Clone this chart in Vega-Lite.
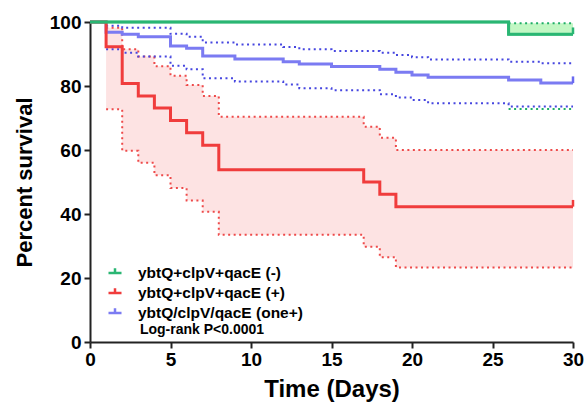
{
  "$schema": "https://vega.github.io/schema/vega-lite/v6.json",
  "width": 483,
  "height": 320,
  "autosize": {"type": "none"},
  "padding": {"left": 90, "top": 22, "right": 12, "bottom": 69},
  "background": "white",
  "config": {
    "view": {"stroke": null},
    "font": "Liberation Sans",
    "axis": {
      "grid": false,
      "domainColor": "#222222",
      "domainWidth": 2,
      "tickColor": "#222222",
      "tickWidth": 2,
      "tickSize": 6,
      "labelFont": "Liberation Sans",
      "labelFontSize": 19,
      "labelFontWeight": "bold",
      "labelColor": "#000000",
      "titleFont": "Liberation Sans",
      "titleFontWeight": "bold",
      "titleColor": "#000000"
    },
    "axisX": {"tickCount": 6, "labelPadding": 2, "titlePadding": 8, "titleFontSize": 24, "labelFlush": false},
    "axisY": {"tickCount": 5, "labelPadding": 3, "titlePadding": 13, "titleFontSize": 22}
  },
  "data": {
    "values": [
      {"group": "ybtQ/clpV/qacE (one+)", "day": 0, "surv": 100, "lo": null, "hi": null},
      {"group": "ybtQ/clpV/qacE (one+)", "day": 1, "surv": 96.8, "lo": 91.5, "hi": 98.8},
      {"group": "ybtQ/clpV/qacE (one+)", "day": 2, "surv": 96.2, "lo": 90.4, "hi": 98.2},
      {"group": "ybtQ/clpV/qacE (one+)", "day": 3, "surv": 95.4, "lo": 89.2, "hi": 98.2},
      {"group": "ybtQ/clpV/qacE (one+)", "day": 5, "surv": 92.5, "lo": 86.3, "hi": 96.3},
      {"group": "ybtQ/clpV/qacE (one+)", "day": 6, "surv": 91.8, "lo": 85.2, "hi": 95.4},
      {"group": "ybtQ/clpV/qacE (one+)", "day": 7, "surv": 89.4, "lo": 82.4, "hi": 93.6},
      {"group": "ybtQ/clpV/qacE (one+)", "day": 9, "surv": 88.4, "lo": 81.4, "hi": 93.0},
      {"group": "ybtQ/clpV/qacE (one+)", "day": 12, "surv": 87.6, "lo": 80.5, "hi": 92.2},
      {"group": "ybtQ/clpV/qacE (one+)", "day": 13, "surv": 86.9, "lo": 79.3, "hi": 91.5},
      {"group": "ybtQ/clpV/qacE (one+)", "day": 15, "surv": 86.1, "lo": 78.7, "hi": 90.9},
      {"group": "ybtQ/clpV/qacE (one+)", "day": 18, "surv": 85.2, "lo": 77.4, "hi": 90.4},
      {"group": "ybtQ/clpV/qacE (one+)", "day": 19, "surv": 84.3, "lo": 76.4, "hi": 89.7},
      {"group": "ybtQ/clpV/qacE (one+)", "day": 20, "surv": 83.4, "lo": 75.6, "hi": 89.0},
      {"group": "ybtQ/clpV/qacE (one+)", "day": 21, "surv": 82.7, "lo": 74.6, "hi": 88.3},
      {"group": "ybtQ/clpV/qacE (one+)", "day": 26, "surv": 81.9, "lo": 73.6, "hi": 87.6},
      {"group": "ybtQ/clpV/qacE (one+)", "day": 28, "surv": 80.9, "lo": 73.6, "hi": 87.1},
      {"group": "ybtQ/clpV/qacE (one+)", "day": 30, "surv": 80.9, "lo": 73.6, "hi": 87.1},
      {"group": "ybtQ+clpV+qacE (+)", "day": 0, "surv": 100, "lo": null, "hi": null},
      {"group": "ybtQ+clpV+qacE (+)", "day": 1, "surv": 92.3, "lo": 72.7, "hi": 98.2},
      {"group": "ybtQ+clpV+qacE (+)", "day": 2, "surv": 80.8, "lo": 59.8, "hi": 91.5},
      {"group": "ybtQ+clpV+qacE (+)", "day": 3, "surv": 76.9, "lo": 56.0, "hi": 89.2},
      {"group": "ybtQ+clpV+qacE (+)", "day": 4, "surv": 73.1, "lo": 52.1, "hi": 86.2},
      {"group": "ybtQ+clpV+qacE (+)", "day": 5, "surv": 69.2, "lo": 48.1, "hi": 83.2},
      {"group": "ybtQ+clpV+qacE (+)", "day": 6, "surv": 65.4, "lo": 44.2, "hi": 80.3},
      {"group": "ybtQ+clpV+qacE (+)", "day": 7, "surv": 61.5, "lo": 40.7, "hi": 76.9},
      {"group": "ybtQ+clpV+qacE (+)", "day": 8, "surv": 53.8, "lo": 33.5, "hi": 70.4},
      {"group": "ybtQ+clpV+qacE (+)", "day": 17, "surv": 50.0, "lo": 29.8, "hi": 67.3},
      {"group": "ybtQ+clpV+qacE (+)", "day": 18, "surv": 46.2, "lo": 26.5, "hi": 63.8},
      {"group": "ybtQ+clpV+qacE (+)", "day": 19, "surv": 42.3, "lo": 23.3, "hi": 60.0},
      {"group": "ybtQ+clpV+qacE (+)", "day": 30, "surv": 42.3, "lo": 23.3, "hi": 60.0},
      {"group": "ybtQ+clpV+qacE (-)", "day": 0, "surv": 100, "lo": null, "hi": null},
      {"group": "ybtQ+clpV+qacE (-)", "day": 26, "surv": 96.2, "lo": 72.8, "hi": 99.6},
      {"group": "ybtQ+clpV+qacE (-)", "day": 30, "surv": 96.2, "lo": 72.8, "hi": 99.6}
    ]
  },
  "layer": [
    {
      "transform": [{"filter": "datum.group === 'ybtQ+clpV+qacE (+)' && isValid(datum.lo)"}],
      "mark": {"type": "area", "interpolate": "step-after", "color": "#fde3e3"},
      "encoding": {
        "x": {"field": "day", "type": "quantitative", "title": "Time (Days)", "scale": {"domain": [0, 30], "nice": false}},
        "y": {"field": "lo", "type": "quantitative", "title": "Percent survival", "scale": {"domain": [0, 100], "nice": false}},
        "y2": {"field": "hi"}
      }
    },
    {
      "transform": [{"filter": "datum.group === 'ybtQ+clpV+qacE (-)' && isValid(datum.hi)"}],
      "mark": {"type": "area", "interpolate": "step-after", "color": "#c2f7c4"},
      "encoding": {
        "x": {"field": "day", "type": "quantitative", "title": "Time (Days)"},
        "y": {"field": "surv", "type": "quantitative", "title": "Percent survival"},
        "y2": {"field": "hi"}
      }
    },
    {
      "transform": [
        {"filter": "datum.group === 'ybtQ+clpV+qacE (+)'"},
        {"fold": ["lo", "hi"], "as": ["bound", "val"]},
        {"filter": "isValid(datum.val)"}
      ],
      "mark": {"type": "line", "interpolate": "step-after", "strokeDash": [2, 3.5], "strokeWidth": 2, "color": "#ee4a4a"},
      "encoding": {
        "x": {"field": "day", "type": "quantitative", "title": "Time (Days)"},
        "y": {"field": "val", "type": "quantitative", "title": "Percent survival"},
        "detail": {"field": "bound"}
      }
    },
    {
      "transform": [
        {"filter": "datum.group === 'ybtQ/clpV/qacE (one+)'"},
        {"fold": ["lo", "hi"], "as": ["bound", "val"]},
        {"filter": "isValid(datum.val)"}
      ],
      "mark": {"type": "line", "interpolate": "step-after", "strokeDash": [2, 3.5], "strokeWidth": 2, "color": "#4646e0"},
      "encoding": {
        "x": {"field": "day", "type": "quantitative", "title": "Time (Days)"},
        "y": {"field": "val", "type": "quantitative", "title": "Percent survival"},
        "detail": {"field": "bound"}
      }
    },
    {
      "transform": [
        {"filter": "datum.group === 'ybtQ+clpV+qacE (-)'"},
        {"fold": ["lo", "hi"], "as": ["bound", "val"]},
        {"filter": "isValid(datum.val)"}
      ],
      "mark": {"type": "line", "interpolate": "step-after", "strokeDash": [2, 3.5], "strokeWidth": 2, "color": "#1fae66"},
      "encoding": {
        "x": {"field": "day", "type": "quantitative", "title": "Time (Days)"},
        "y": {"field": "val", "type": "quantitative", "title": "Percent survival"},
        "detail": {"field": "bound"}
      }
    },
    {
      "mark": {"type": "line", "interpolate": "step-after", "strokeWidth": 3},
      "encoding": {
        "x": {"field": "day", "type": "quantitative", "title": "Time (Days)"},
        "y": {"field": "surv", "type": "quantitative", "title": "Percent survival"},
        "color": {
          "field": "group", "type": "nominal",
          "scale": {"domain": ["ybtQ+clpV+qacE (-)", "ybtQ+clpV+qacE (+)", "ybtQ/clpV/qacE (one+)"], "range": ["#2ab673", "#f03c3c", "#7b7bf2"]},
          "legend": {
            "title": null,
            "orient": "none",
            "legendX": 17,
            "legendY": 243,
            "padding": 0,
            "symbolType": "M-1,0L1,0M0,0L0,-0.75",
            "symbolSize": 169,
            "symbolStrokeWidth": 2.5,
            "labelFont": "Liberation Sans",
            "labelFontWeight": 700,
            "labelFontSize": 15.5,
            "labelColor": "#000000",
            "labelOffset": 15,
            "rowPadding": 1,
            "labelLimit": 300,
            "encode": {
              "labels": {"update": {"fontWeight": {"value": 700}, "fontSize": {"value": 15.5}, "fill": {"value": "#000000"}}}
            }
          }
        }
      }
    },
    {
      "transform": [{"filter": "datum.group === 'ybtQ+clpV+qacE (-)'"}],
      "mark": {"type": "line", "interpolate": "step-after", "strokeWidth": 2.5, "color": "#2ab673"},
      "encoding": {
        "x": {"field": "day", "type": "quantitative", "title": "Time (Days)"},
        "y": {"field": "surv", "type": "quantitative", "title": "Percent survival"}
      }
    },
    {
      "transform": [{"filter": "datum.day === 30"}],
      "mark": {"type": "point", "shape": "M0,0L0,-1", "filled": false, "size": 180, "strokeWidth": 2.5, "opacity": 1},
      "encoding": {
        "x": {"field": "day", "type": "quantitative", "title": "Time (Days)"},
        "y": {"field": "surv", "type": "quantitative", "title": "Percent survival"},
        "stroke": {
          "condition": [
            {"test": "datum.group === 'ybtQ+clpV+qacE (-)'", "value": "#2ab673"},
            {"test": "datum.group === 'ybtQ+clpV+qacE (+)'", "value": "#f03c3c"}
          ],
          "value": "#6a6af0"
        }
      }
    },
    {
      "data": {"values": [{"note": "Log-rank P<0.0001"}]},
      "mark": {"type": "text", "align": "left", "baseline": "middle", "font": "Liberation Sans", "fontWeight": "bold", "fontSize": 14, "color": "#000000"},
      "encoding": {
        "x": {"datum": 3.1, "type": "quantitative"},
        "y": {"datum": 3.9, "type": "quantitative"},
        "text": {"field": "note"}
      }
    }
  ]
}
